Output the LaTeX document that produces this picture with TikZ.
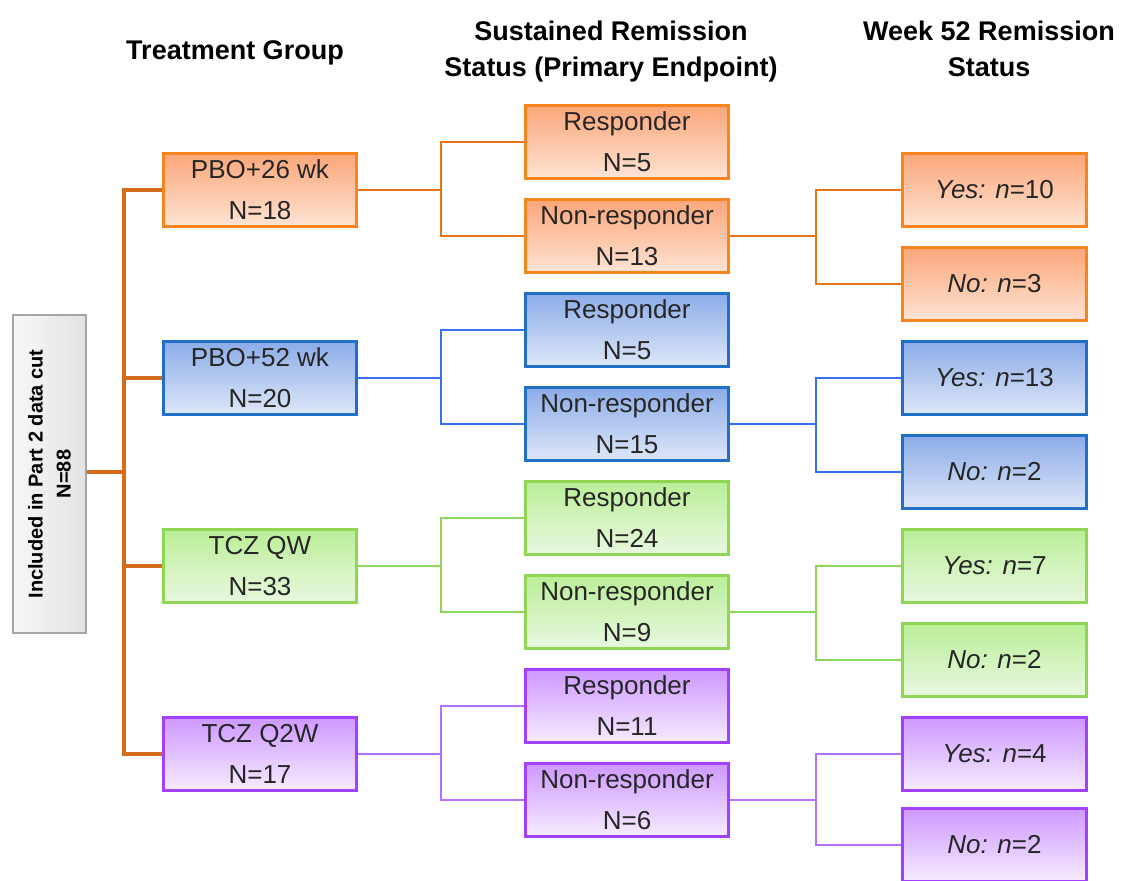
\documentclass[tikz,border=0pt]{standalone}
\usepackage{fontspec}
\setmainfont{Liberation Sans}
\usepackage{tikz}

\definecolor{orangeedge}{RGB}{248,132,30}
\definecolor{orangetop}{RGB}{251,166,122}
\definecolor{orangebot}{RGB}{254,228,212}
\definecolor{orangeline}{RGB}{228,118,22}
\definecolor{trunkline}{RGB}{214,108,26}
\definecolor{blueedge}{RGB}{32,112,200}
\definecolor{bluetop}{RGB}{140,172,232}
\definecolor{bluebot}{RGB}{222,231,248}
\definecolor{blueline}{RGB}{52,112,240}
\definecolor{greenedge}{RGB}{142,214,84}
\definecolor{greentop}{RGB}{186,238,152}
\definecolor{greenbot}{RGB}{234,248,224}
\definecolor{greenline}{RGB}{142,214,92}
\definecolor{purpleedge}{RGB}{162,64,255}
\definecolor{purpletop}{RGB}{206,152,255}
\definecolor{purplebot}{RGB}{246,236,255}
\definecolor{purpleline}{RGB}{182,112,255}

\begin{document}
\begin{tikzpicture}[x=1pt, y=-1pt]
    \tikzset{box/.style = {shape=rectangle, draw, line width=2.8pt, minimum height=73pt, align=center, text=black!85, font=\fontsize{26}{41}\selectfont}}
    \tikzset{grp/.style = {box, minimum width=193pt}}
    \tikzset{resp/.style = {box, minimum width=203pt}}
    \tikzset{wk/.style = {box, minimum width=184pt}}
    \tikzset{orangebox/.style = {draw=orangeedge, top color=orangetop, bottom color=orangebot}}
    \tikzset{bluebox/.style = {draw=blueedge, top color=bluetop, bottom color=bluebot}}
    \tikzset{greenbox/.style = {draw=greenedge, top color=greentop, bottom color=greenbot}}
    \tikzset{purplebox/.style = {draw=purpleedge, top color=purpletop, bottom color=purplebot}}
    \tikzset{header/.style = {anchor=base, align=center, font=\bfseries\fontsize{27}{36}\selectfont}}
    \tikzset{edge/.style = {draw, line width=2.8pt, -}}

    \useasboundingbox (0,0) rectangle (1125,881);

    % headers
    \node[header] (hgrp) at (235,59) {Treatment Group};
    \node[header] (hresp) at (611,76) {Sustained Remission\\Status (Primary Endpoint)};
    \node[header] (hwk) at (989,76) {Week 52 Remission\\Status};

    % vertices
    \node[shape=rectangle, draw=gray!70, line width=2.4pt, left color=gray!6, right color=gray!22,
          rotate=90, minimum width=318pt, minimum height=73pt, align=center,
          font=\bfseries\fontsize{20}{28}\selectfont] (root) at (49.5,474) {Included in Part 2 data cut\\N=88};

    \node[grp, orangebox] (pbo26) at (260,190) {PBO+26 wk\\N=18};
    \node[grp, bluebox] (pbo52) at (260,378) {PBO+52 wk\\N=20};
    \node[grp, greenbox] (tczqw) at (260,566) {TCZ QW\\N=33};
    \node[grp, purplebox] (tczq2w) at (260,754) {TCZ Q2W\\N=17};

    \node[resp, orangebox] (r1) at (627,142) {Responder\\N=5};
    \node[resp, orangebox] (n1) at (627,236) {Non-responder\\N=13};
    \node[resp, bluebox] (r2) at (627,330) {Responder\\N=5};
    \node[resp, bluebox] (n2) at (627,424) {Non-responder\\N=15};
    \node[resp, greenbox] (r3) at (627,518) {Responder\\N=24};
    \node[resp, greenbox] (n3) at (627,612) {Non-responder\\N=9};
    \node[resp, purplebox] (r4) at (627,706) {Responder\\N=11};
    \node[resp, purplebox] (n4) at (627,800) {Non-responder\\N=6};

    \node[wk, orangebox] (y1) at (994.5,190) {\textit{Yes: n}=10};
    \node[wk, orangebox] (no1) at (994.5,284) {\textit{No: n}=3};
    \node[wk, bluebox] (y2) at (994.5,378) {\textit{Yes: n}=13};
    \node[wk, bluebox] (no2) at (994.5,472) {\textit{No: n}=2};
    \node[wk, greenbox] (y3) at (994.5,566) {\textit{Yes: n}=7};
    \node[wk, greenbox] (no3) at (994.5,660) {\textit{No: n}=2};
    \node[wk, purplebox] (y4) at (994.5,754) {\textit{Yes: n}=4};
    \node[wk, purplebox] (no4) at (994.5,845) {\textit{No: n}=2};

    % junctions
    \coordinate (trunk) at (124,472);
    \coordinate (j1) at (441,190);
    \coordinate (j2) at (441,378);
    \coordinate (j3) at (441,566);
    \coordinate (j4) at (441,754);
    \coordinate (k1) at (816,236);
    \coordinate (k2) at (816,424);
    \coordinate (k3) at (816,612);
    \coordinate (k4) at (816,800);

    % edges
    \draw[edge, trunkline, line width=3.2pt] (root.south |- trunk) -- (trunk);
    \draw[edge, trunkline, line width=3.2pt] (trunk) |- (pbo26.west);
    \draw[edge, trunkline, line width=3.2pt] (trunk) |- (pbo52.west);
    \draw[edge, trunkline, line width=3.2pt] (trunk) |- (tczqw.west);
    \draw[edge, trunkline, line width=3.2pt] (trunk) |- (tczq2w.west);

    \draw[edge, orangeline] (pbo26.east) -- (j1) |- (r1.west);
    \draw[edge, orangeline] (j1) |- (n1.west);
    \draw[edge, orangeline] (n1.east) -- (k1) |- (y1.west);
    \draw[edge, orangeline] (k1) |- (no1.west);

    \draw[edge, blueline, line width=2.4pt] (pbo52.east) -- (j2) |- (r2.west);
    \draw[edge, blueline, line width=2.4pt] (j2) |- (n2.west);
    \draw[edge, blueline, line width=2.4pt] (n2.east) -- (k2) |- (y2.west);
    \draw[edge, blueline, line width=2.4pt] (k2) |- (no2.west);

    \draw[edge, greenline, line width=1.9pt] (tczqw.east) -- (j3) |- (r3.west);
    \draw[edge, greenline, line width=1.9pt] (j3) |- (n3.west);
    \draw[edge, greenline, line width=2.6pt] (n3.east) -- (k3);
    \draw[edge, greenline, line width=1.9pt] (k3) |- (y3.west);
    \draw[edge, greenline, line width=1.9pt] (k3) |- (no3.west);

    \draw[edge, purpleline, line width=1.9pt] (tczq2w.east) -- (j4) |- (r4.west);
    \draw[edge, purpleline, line width=1.9pt] (j4) |- (n4.west);
    \draw[edge, purpleline, line width=1.9pt] (n4.east) -- (k4) |- (y4.west);
    \draw[edge, purpleline, line width=1.9pt] (k4) |- (no4.west);
\end{tikzpicture}
\end{document}
